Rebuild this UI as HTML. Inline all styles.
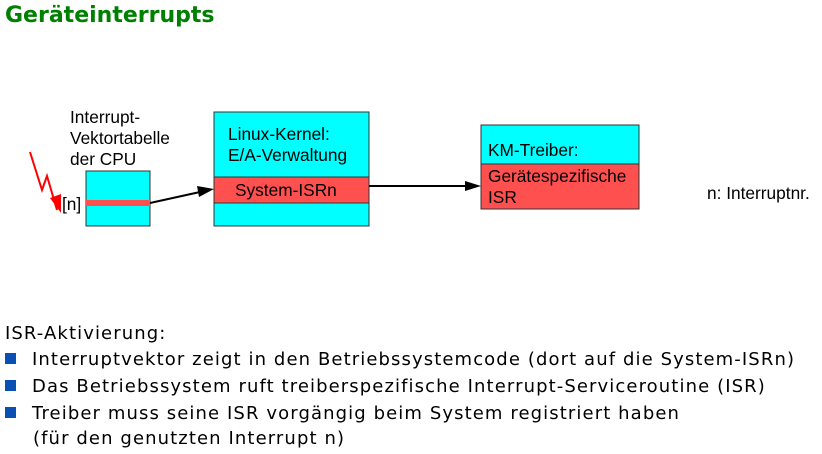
<!DOCTYPE html>
<html><head><meta charset="utf-8"><style>
body{margin:0;width:822px;height:454px;background:#fff;overflow:hidden;position:relative}
.t{position:absolute;left:5px;top:3px;font:bold 22px "DejaVu Sans",sans-serif;color:#008000;white-space:nowrap}
.b{position:absolute;left:5px;font:18px "DejaVu Sans",sans-serif;letter-spacing:1.1px;color:#000;white-space:nowrap}
.sq{display:inline-block;width:11px;height:11px;background:#0a50b4;margin-right:16px;vertical-align:1px}
svg{position:absolute;left:0;top:0}
</style></head><body>
<div class="t">Geräteinterrupts</div>
<svg width="822" height="454" font-family="Liberation Sans, sans-serif" font-size="17.3">
<polyline points="30,152 42,190 47,176 57,210" fill="none" stroke="#f00" stroke-width="2"/>
<polygon points="61,213 50,198 61,194" fill="#f00"/>
<text x="70" y="123">Interrupt-</text>
<text x="70" y="144">Vektortabelle</text>
<text x="70" y="165">der CPU</text>
<text x="62" y="210">[n]</text>
<rect x="86" y="171" width="64" height="55" fill="#00ffff" stroke="#333" stroke-width="1"/>
<rect x="86" y="200" width="64" height="6" fill="#ff5050"/>
<rect x="214" y="112" width="155" height="114" fill="#00ffff" stroke="#333"/>
<rect x="214" y="177" width="155" height="26" fill="#ff5050" stroke="#333"/>
<text x="228" y="140">Linux-Kernel:</text>
<text x="228" y="161">E/A-Verwaltung</text>
<text x="235" y="196">System-ISRn</text>
<line x1="150" y1="203" x2="200" y2="192" stroke="#000" stroke-width="2"/>
<polygon points="214,189 197,186 199,197" fill="#000"/>
<line x1="369" y1="186" x2="466" y2="186" stroke="#000" stroke-width="2"/>
<polygon points="481,186 465,181 465,191" fill="#000"/>
<rect x="481" y="125" width="158" height="84" fill="#00ffff" stroke="#333"/>
<rect x="481" y="164" width="158" height="45" fill="#ff5050" stroke="#333"/>
<text x="488" y="156">KM-Treiber:</text>
<text x="488" y="182">Gerätespezifische</text>
<text x="488" y="203">ISR</text>
<text x="707" y="199">n: Interruptnr.</text>
</svg>
<div class="b" style="top:323px">ISR-Aktivierung:</div>
<div class="b" style="top:349px"><span class="sq"></span>Interruptvektor zeigt in den Betriebssystemcode (dort auf die System-ISRn)</div>
<div class="b" style="top:376px"><span class="sq"></span>Das Betriebssystem ruft treiberspezifische Interrupt-Serviceroutine (ISR)</div>
<div class="b" style="top:403px"><span class="sq"></span>Treiber muss seine ISR vorgängig beim System registriert haben</div>
<div class="b" style="top:428px;left:33px">(für den genutzten Interrupt n)</div>
</body></html>
